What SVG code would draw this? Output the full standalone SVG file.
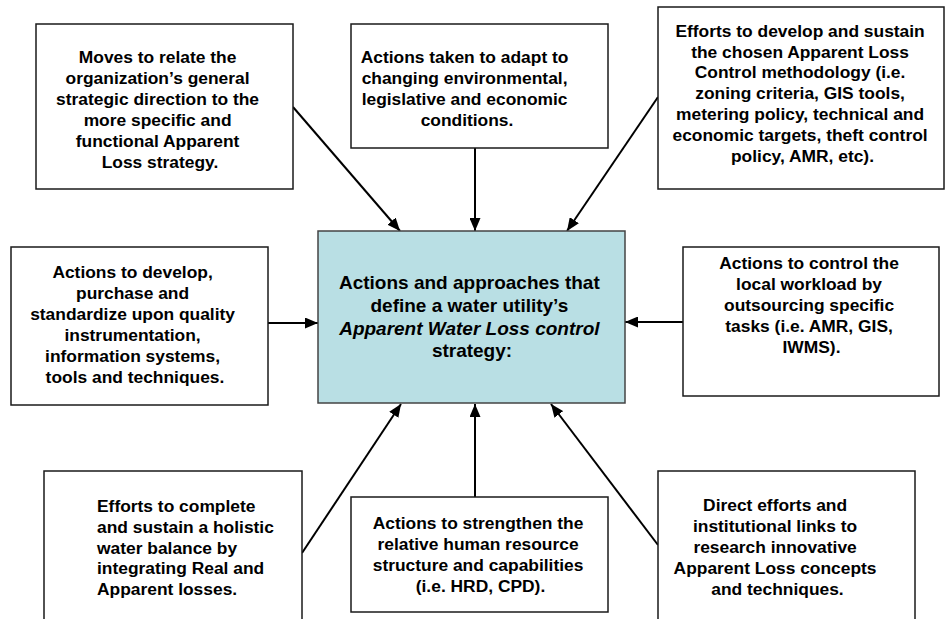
<svg xmlns="http://www.w3.org/2000/svg" width="946" height="619" viewBox="0 0 946 619">
<style>
  .box { fill: #ffffff; stroke: #1a1a1a; stroke-width: 1.5; }
  .core { fill: #B9DFE4; stroke: #444444; stroke-width: 1.5; }
  .t { font-family: "Liberation Sans", Arial, sans-serif; font-weight: bold; font-size: 17.4px; fill: #000; text-anchor: middle; }
  .tl { text-anchor: start; }
  .c { font-size: 19px; }
  .conn { stroke: #000; stroke-width: 2; fill: none; marker-end: url(#ah); }
</style>
<defs>
  <marker id="ah" markerUnits="userSpaceOnUse" markerWidth="13" markerHeight="11" refX="13" refY="5.5" orient="auto">
    <path d="M0,0 L13,5.5 L0,11 z" fill="#000"/>
  </marker>
</defs>
<rect width="946" height="619" fill="#ffffff"/>

<g id="connectors">
  <line class="conn" x1="293" y1="107" x2="400" y2="231"/>
  <line class="conn" x1="475" y1="148" x2="475" y2="231"/>
  <line class="conn" x1="658" y1="97" x2="567" y2="231"/>
  <line class="conn" x1="268" y1="323" x2="318" y2="323"/>
  <line class="conn" x1="683" y1="322" x2="625" y2="322"/>
  <line class="conn" x1="302" y1="553" x2="401" y2="404"/>
  <line class="conn" x1="475" y1="497" x2="475" y2="404"/>
  <line class="conn" x1="658" y1="545" x2="551" y2="404"/>
</g>

<g id="node-strategic">
  <rect class="box" x="36" y="24" width="257" height="165"/>
  <text class="t" x="160">
    <tspan x="160" y="63.3">Moves to relate the</tspan>
    <tspan x="160" y="84.3">organization’s general</tspan>
    <tspan x="160" y="105.3">strategic direction to the</tspan>
    <tspan x="160" y="126.2">more specific and</tspan>
    <tspan x="160" y="147">functional Apparent</tspan>
    <tspan x="160" y="167.8">Loss strategy.</tspan>
  </text>
</g>

<g id="node-adapt">
  <rect class="box" x="351" y="24" width="257" height="124"/>
  <text class="t">
    <tspan x="467" y="63.3">Actions taken to adapt to</tspan>
    <tspan x="467" y="84.3">changing environmental,</tspan>
    <tspan x="467" y="105.2">legislative and economic</tspan>
    <tspan x="467" y="126">conditions.</tspan>
  </text>
</g>

<g id="node-methodology">
  <rect class="box" x="658" y="7" width="286" height="182"/>
  <text class="t">
    <tspan x="802.5" y="36.7">Efforts to develop and sustain</tspan>
    <tspan x="802.5" y="57.5">the chosen Apparent Loss</tspan>
    <tspan x="802.5" y="78.4">Control methodology (i.e.</tspan>
    <tspan x="802.5" y="99.3">zoning criteria, GIS tools,</tspan>
    <tspan x="802.5" y="120.1">metering policy, technical and</tspan>
    <tspan x="802.5" y="141">economic targets, theft control</tspan>
    <tspan x="802.5" y="161.8">policy, AMR, etc).</tspan>
  </text>
</g>

<g id="node-instrumentation">
  <rect class="box" x="11" y="247" width="257" height="158"/>
  <text class="t">
    <tspan x="135" y="278.3">Actions to develop,</tspan>
    <tspan x="135" y="299.3">purchase and</tspan>
    <tspan x="135" y="320.4">standardize upon quality</tspan>
    <tspan x="135" y="341.4">instrumentation,</tspan>
    <tspan x="135" y="362.4">information systems,</tspan>
    <tspan x="135" y="383.3">tools and techniques.</tspan>
  </text>
</g>

<g id="node-core">
  <rect class="core" x="318" y="231" width="307" height="172"/>
  <text class="t c">
    <tspan x="472" y="289.3">Actions and approaches that</tspan>
    <tspan x="472" y="311.9">define a water utility’s</tspan>
    <tspan x="472" y="334.5" font-style="italic">Apparent Water Loss control</tspan>
    <tspan x="472" y="357.2">strategy:</tspan>
  </text>
</g>

<g id="node-outsourcing">
  <rect class="box" x="683" y="247" width="256" height="149"/>
  <text class="t">
    <tspan x="811.5" y="269.3">Actions to control the</tspan>
    <tspan x="811.5" y="290.1">local workload by</tspan>
    <tspan x="811.5" y="311">outsourcing specific</tspan>
    <tspan x="811.5" y="331.9">tasks (i.e. AMR, GIS,</tspan>
    <tspan x="811.5" y="352.7">IWMS).</tspan>
  </text>
</g>

<g id="node-waterbalance">
  <rect class="box" x="44" y="471" width="258" height="160"/>
  <text class="t tl">
    <tspan x="97" y="511.7">Efforts to complete</tspan>
    <tspan x="97" y="532.7">and sustain a holistic</tspan>
    <tspan x="97" y="553.6">water balance by</tspan>
    <tspan x="97" y="574.4">integrating Real and</tspan>
    <tspan x="97" y="595.2">Apparent losses.</tspan>
  </text>
</g>

<g id="node-humanresource">
  <rect class="box" x="351" y="497" width="257" height="115"/>
  <text class="t">
    <tspan x="480.5" y="529.3">Actions to strengthen the</tspan>
    <tspan x="480.5" y="550.1">relative human resource</tspan>
    <tspan x="480.5" y="571">structure and capabilities</tspan>
    <tspan x="480.5" y="591.8">(i.e. HRD, CPD).</tspan>
  </text>
</g>

<g id="node-research">
  <rect class="box" x="658" y="471" width="257" height="160"/>
  <text class="t">
    <tspan x="777.5" y="511">Direct efforts and</tspan>
    <tspan x="777.5" y="532">institutional links to</tspan>
    <tspan x="777.5" y="553">research innovative</tspan>
    <tspan x="777.5" y="574">Apparent Loss concepts</tspan>
    <tspan x="777.5" y="595">and techniques.</tspan>
  </text>
</g>
</svg>
